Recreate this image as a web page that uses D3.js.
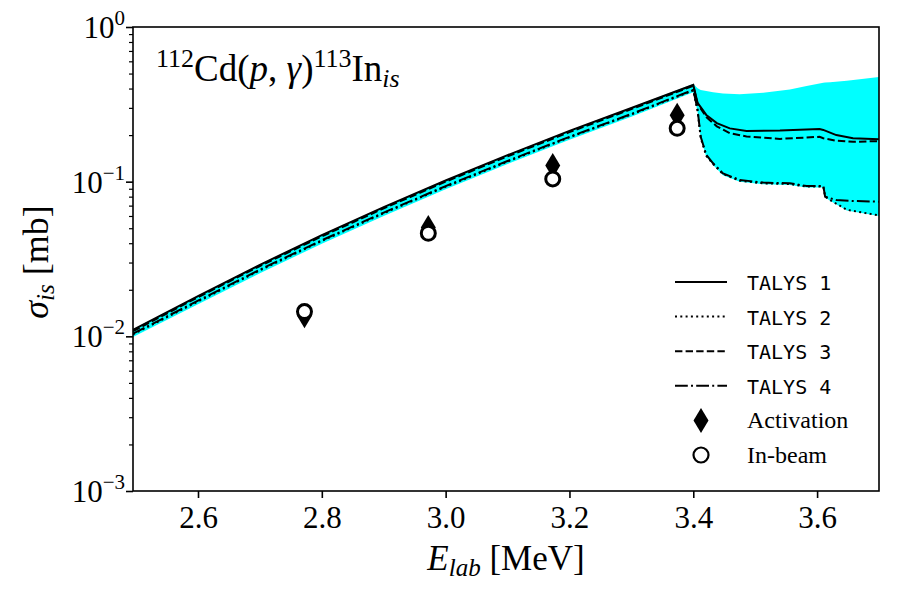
<!DOCTYPE html>
<html>
<head>
<meta charset="utf-8">
<script src="https://cdn.jsdelivr.net/npm/d3@7"></script>
<style>
  body { margin: 0; background: #fff; }
  svg text { font-family: "Liberation Serif", "DejaVu Serif", serif; fill: #000; }
  svg text.mono { font-family: "DejaVu Sans Mono", "Liberation Mono", monospace; }
</style>
</head>
<body>
<svg id="chart" width="900" height="600"></svg>
<script>
// TALYS curves, energies in MeV, cross sections in mb
const talys1E = [2.495, 2.6, 2.7, 2.8, 2.9, 3.0, 3.1, 3.2, 3.3, 3.4, 3.407, 3.421, 3.438, 3.459, 3.486, 3.54, 3.604, 3.61, 3.631, 3.658, 3.7];
const talys1 = [0.0110, 0.0182, 0.0290, 0.0451, 0.0684, 0.1018, 0.1484, 0.2128, 0.2997, 0.422, 0.323, 0.270, 0.239, 0.221, 0.213, 0.214, 0.219, 0.216, 0.200, 0.191, 0.188];

const talys3E = [2.495, 2.6, 2.7, 2.8, 2.9, 3.0, 3.1, 3.2, 3.3, 3.4, 3.407, 3.421, 3.438, 3.459, 3.486, 3.54, 3.604, 3.61, 3.631, 3.658, 3.7];
const talys3 = [0.0108, 0.0179, 0.0285, 0.0443, 0.0672, 0.1000, 0.1458, 0.2090, 0.2945, 0.417, 0.318, 0.262, 0.228, 0.206, 0.196, 0.189, 0.195, 0.191, 0.184, 0.181, 0.183];

const talys4E = [2.495, 2.6, 2.7, 2.8, 2.9, 3.0, 3.1, 3.2, 3.3, 3.4, 3.407, 3.412, 3.421, 3.432, 3.448, 3.475, 3.513, 3.556, 3.583, 3.61, 3.613, 3.631, 3.658, 3.7];
const talys4 = [0.0104, 0.0170, 0.0270, 0.0418, 0.0631, 0.0936, 0.1361, 0.1950, 0.2740, 0.392, 0.291, 0.195, 0.149, 0.1315, 0.113, 0.1026, 0.0986, 0.0976, 0.0938, 0.0938, 0.080, 0.0761, 0.0750, 0.0742];

const talys2E = [2.495, 2.6, 2.7, 2.8, 2.9, 3.0, 3.1, 3.2, 3.3, 3.4, 3.407, 3.412, 3.421, 3.432, 3.448, 3.475, 3.513, 3.556, 3.583, 3.61, 3.613, 3.621, 3.648, 3.7];
const talys2 = [0.0103, 0.0168, 0.0267, 0.0414, 0.0625, 0.0928, 0.1350, 0.1935, 0.2720, 0.389, 0.286, 0.192, 0.147, 0.130, 0.112, 0.1015, 0.0975, 0.0966, 0.0930, 0.0930, 0.080, 0.0761, 0.0658, 0.0605];

// cyan uncertainty band
const bandE = [2.495, 2.6, 2.7, 2.8, 2.9, 3.0, 3.1, 3.2, 3.3, 3.4, 3.407, 3.412, 3.421, 3.432, 3.448, 3.475, 3.513, 3.556, 3.583, 3.61, 3.613, 3.621, 3.648, 3.7];
const bandHigh = [0.0111, 0.0183, 0.0292, 0.0454, 0.0689, 0.1025, 0.1494, 0.2142, 0.3015, 0.428, 0.402, 0.392, 0.385, 0.378, 0.372, 0.368, 0.376, 0.395, 0.415, 0.436, 0.437, 0.440, 0.450, 0.475];
const bandLow = [0.0099, 0.0161, 0.0256, 0.0397, 0.0600, 0.0893, 0.1300, 0.1866, 0.2625, 0.378, 0.283, 0.190, 0.145, 0.128, 0.110, 0.1000, 0.0962, 0.0953, 0.0918, 0.0918, 0.079, 0.0752, 0.0652, 0.0600];

// measurements
const activationE = [2.772, 2.972, 3.173, 3.374];
const activation = [0.0136, 0.0505, 0.127, 0.269];
const inbeamE = [2.772, 2.972, 3.173, 3.374];
const inbeam = [0.01445, 0.0464, 0.1041, 0.2214];

const xTicks = [2.6, 2.8, 3.0, 3.2, 3.4, 3.6];
const yTicks = [1e-3, 1e-2, 1e-1, 1];
const yTickExp = ["\u22123", "\u22122", "\u22121", "0"];

const svg = d3.select("#chart");
const plot = { left: 133, right: 879, top: 27, bottom: 491 };

const x = d3.scaleLinear().domain([2.495, 3.7]).range([plot.left, plot.right]);
const y = d3.scaleLog().domain([1e-3, 1]).range([plot.bottom, plot.top]);

svg.append("clipPath").attr("id", "clip")
  .append("rect")
  .attr("x", plot.left).attr("y", plot.top)
  .attr("width", plot.right - plot.left).attr("height", plot.bottom - plot.top);

const g = svg.append("g").attr("clip-path", "url(#clip)");

// band
const band = bandE.map((e, i) => ({ e, lo: bandLow[i], hi: bandHigh[i] }));
g.append("path")
  .datum(band)
  .attr("fill", "#00ffff")
  .attr("d", d3.area().x(d => x(d.e)).y0(d => y(d.lo)).y1(d => y(d.hi)));

// lines
const series = [
  { e: talys1E, v: talys1, dash: null },
  { e: talys2E, v: talys2, dash: "2,3.3" },
  { e: talys3E, v: talys3, dash: "7.4,3.2" },
  { e: talys4E, v: talys4, dash: "12.8,3.2,2,3.2" }
];
const line = d3.line().x(d => x(d[0])).y(d => y(d[1]));
series.forEach(s => {
  g.append("path")
    .datum(s.e.map((e, i) => [e, s.v[i]]))
    .attr("fill", "none")
    .attr("stroke", "#000")
    .attr("stroke-width", 2)
    .attr("stroke-dasharray", s.dash)
    .attr("d", line);
});

// markers
const diamond = "M0,-12.5L7.5,0L0,12.5L-7.5,0Z";
g.selectAll(".act")
  .data(activationE.map((e, i) => [e, activation[i]]))
  .enter().append("path")
  .attr("class", "act")
  .attr("d", diamond)
  .attr("transform", d => `translate(${x(d[0])},${y(d[1])})`)
  .attr("fill", "#000");

g.selectAll(".inb")
  .data(inbeamE.map((e, i) => [e, inbeam[i]]))
  .enter().append("circle")
  .attr("class", "inb")
  .attr("cx", d => x(d[0]))
  .attr("cy", d => y(d[1]))
  .attr("r", 7)
  .attr("fill", "#fff")
  .attr("stroke", "#000")
  .attr("stroke-width", 3);

// x axis
const xAxis = svg.append("g")
  .attr("transform", `translate(0,${plot.bottom})`)
  .call(d3.axisBottom(x).tickValues(xTicks).tickFormat(d3.format(".1f")).tickSize(7).tickPadding(8));
xAxis.select(".domain").remove();
xAxis.selectAll("line").attr("stroke-width", 1.6);
xAxis.selectAll("text")
  .style("font-family", "'Liberation Serif', serif")
  .style("font-size", "31px")
  .attr("fill", "#000");

// y axis: major + minor ticks
const minor = [];
[1e-3, 1e-2, 1e-1].forEach(b => { for (let k = 2; k <= 9; k++) minor.push(b * k); });
const yAxis = svg.append("g").attr("transform", `translate(${plot.left},0)`);
yAxis.call(d3.axisLeft(y).tickValues(yTicks).tickFormat("").tickSize(7));
yAxis.select(".domain").remove();
yAxis.selectAll("line").attr("stroke-width", 1.6);
const yMinor = svg.append("g").attr("transform", `translate(${plot.left},0)`)
  .call(d3.axisLeft(y).tickValues(minor).tickFormat("").tickSize(4));
yMinor.select(".domain").remove();
yMinor.selectAll("line").attr("stroke-width", 1.2);

yTicks.forEach((t, i) => {
  const txt = svg.append("text")
    .attr("x", 125)
    .attr("y", y(t) + 11)
    .attr("text-anchor", "end")
    .style("font-size", "31px");
  txt.append("tspan").text("10");
  txt.append("tspan").attr("dy", -13).style("font-size", "21px").text(yTickExp[i]);
});

// frame
svg.append("rect")
  .attr("x", plot.left).attr("y", plot.top)
  .attr("width", plot.right - plot.left).attr("height", plot.bottom - plot.top)
  .attr("fill", "none").attr("stroke", "#000").attr("stroke-width", 1.6);

// axis labels
const xl = svg.append("text")
  .attr("x", 506).attr("y", 570)
  .attr("text-anchor", "middle")
  .style("font-size", "35px");
xl.append("tspan").attr("font-style", "italic").text("E");
xl.append("tspan").attr("font-style", "italic").style("font-size", "25px").attr("dy", 6).text("lab");
xl.append("tspan").attr("dy", -6).text(" [MeV]");

const yl = svg.append("text")
  .attr("transform", "translate(48,262) rotate(-90)")
  .attr("text-anchor", "middle")
  .style("font-size", "36px");
yl.append("tspan").attr("font-style", "italic").text("\u03c3");
yl.append("tspan").attr("font-style", "italic").style("font-size", "25px").attr("dy", 6).text("is");
yl.append("tspan").attr("dy", -6).text(" [mb]");

// reaction label
const title = svg.append("text")
  .attr("x", 156).attr("y", 81)
  .style("font-size", "37px");
title.append("tspan").style("font-size", "26px").attr("dy", -14).text("112");
title.append("tspan").attr("dy", 14).text("Cd(");
title.append("tspan").attr("font-style", "italic").text("p");
title.append("tspan").text(", ");
title.append("tspan").attr("font-style", "italic").text("\u03b3");
title.append("tspan").text(")");
title.append("tspan").style("font-size", "26px").attr("dy", -14).text("113");
title.append("tspan").attr("dy", 14).text("In");
title.append("tspan").attr("font-style", "italic").style("font-size", "26px").attr("dy", 6).text("is");

// legend
const legendRows = [
  { label: "TALYS 1", type: "line", dash: null, mono: true },
  { label: "TALYS 2", type: "line", dash: "2,3.3", mono: true },
  { label: "TALYS 3", type: "line", dash: "7.4,3.2", mono: true },
  { label: "TALYS 4", type: "line", dash: "12.8,3.2,2,3.2", mono: true },
  { label: "Activation", type: "diamond", mono: false },
  { label: "In-beam", type: "circle", mono: false }
];
const legY = d3.scaleLinear().domain([0, 5]).range([282, 455]);
legendRows.forEach((r, i) => {
  const cy = legY(i);
  if (r.type === "line") {
    svg.append("line")
      .attr("x1", 675).attr("x2", 727).attr("y1", cy).attr("y2", cy)
      .attr("stroke", "#000").attr("stroke-width", 2)
      .attr("stroke-dasharray", r.dash);
  } else if (r.type === "diamond") {
    svg.append("path").attr("d", diamond)
      .attr("transform", `translate(701,${cy})`).attr("fill", "#000");
  } else {
    svg.append("circle").attr("cx", 701).attr("cy", cy).attr("r", 7.5)
      .attr("fill", "#fff").attr("stroke", "#000").attr("stroke-width", 2.2);
  }
  svg.append("text")
    .attr("class", r.mono ? "mono" : null)
    .attr("x", 747).attr("y", cy + 8)
    .style("font-size", r.mono ? "20px" : "24px")
    .text(r.label);
});
</script>
</body>
</html>
